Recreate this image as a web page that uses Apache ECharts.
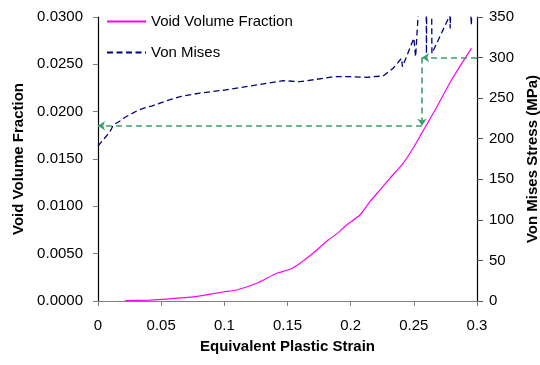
<!DOCTYPE html>
<html>
<head>
<meta charset="utf-8">
<script src="https://cdn.jsdelivr.net/npm/echarts@6/dist/echarts.min.js"></script>
<style>
html,body{margin:0;padding:0;background:#fff;}
#chart{width:540px;height:365px;}
</style>
</head>
<body>
<div id="chart"></div>
<script>
// Void volume fraction curve (strain, fraction)
const vvfStrain = [0.021, 0.0227, 0.0411, 0.0543, 0.0728, 0.0833, 0.0991, 0.1097, 0.1256, 0.1414, 0.1519, 0.1600, 0.1680, 0.1750, 0.1822, 0.1900, 0.1968, 0.2073, 0.2152, 0.2231, 0.2310, 0.2415, 0.2494, 0.2574, 0.2670, 0.2800, 0.2956];
const vvfValue  = [0.0000, 0.00003, 0.0001, 0.0002, 0.0004, 0.0006, 0.00095, 0.00116, 0.00187, 0.00293, 0.00335, 0.0040, 0.0048, 0.0056, 0.00644, 0.0072, 0.00803, 0.00908, 0.01049, 0.01172, 0.01296, 0.01455, 0.01613, 0.01800, 0.0202, 0.0234, 0.02669];

// Von Mises stress curve (strain, MPa)
const vmStrain = [0, 0.0095, 0.0121, 0.0187, 0.0214, 0.0306, 0.0358, 0.0425, 0.0543, 0.0649, 0.0807, 0.1004, 0.1202, 0.1466, 0.1598, 0.1730, 0.1860, 0.1994, 0.2125, 0.2257, 0.2336, 0.2402, 0.2410, 0.2500, 0.2514, 0.2553, 0.2597, 0.2600, 0.2603, 0.2640, 0.2643, 0.2785, 0.2788, 0.2800, 0.2940, 0.2955, 0.2970, 0.3000];
const vmValue  = [191, 208.6, 216.9, 223.1, 226.4, 234.2, 237.5, 240.3, 246.8, 251.8, 256.3, 260, 265, 271.5, 270.3, 273.2, 276.4, 276.4, 275.7, 277.3, 286.8, 299, 288.7, 323.8, 301, 400, 400, 305, 400, 400, 305, 352, 336, 400, 400, 340, 400, 400];

// Guide lines (green dashed arrows)
const guideStrain = 0.2565;
const guideStressHigh = 300;
const guideStressLow = 216;

const xTicks = { min: 0, max: 0.3, interval: 0.05 };
const leftTicks = { min: 0, max: 0.03, interval: 0.005 };
const rightTicks = { min: 0, max: 350, interval: 50 };

const vvfData = vvfStrain.map((x, i) => [x, vvfValue[i]]);
const vmData = vmStrain.map((x, i) => [x, vmValue[i]]);

const FONT = '"Liberation Sans", Arial, sans-serif';
const green = '#3f9f6b';

const chart = echarts.init(document.getElementById('chart'), null, { renderer: 'canvas' });
chart.setOption({
  animation: false,
  backgroundColor: '#ffffff',
  textStyle: { fontFamily: FONT },
  grid: { left: 98, right: 63, top: 17, bottom: 64, containLabel: false, outerBoundsMode: 'none' },
  legend: {
    orient: 'vertical',
    left: 101,
    top: 9,
    itemWidth: 39,
    itemHeight: 12,
    itemGap: 16,
    itemStyle: { opacity: 0 },
    textStyle: { fontFamily: FONT, fontSize: 15, color: '#000' },
    data: ['Void Volume Fraction', 'Von Mises']
  },
  xAxis: {
    type: 'value',
    min: xTicks.min, max: xTicks.max, interval: xTicks.interval,
    name: 'Equivalent Plastic Strain',
    nameLocation: 'middle',
    nameGap: 38,
    nameTextStyle: { fontFamily: FONT, fontSize: 15, fontWeight: 'bold', color: '#000' },
    axisLine: { show: true, lineStyle: { color: '#808080', width: 1 } },
    axisTick: { show: true, length: 5, lineStyle: { color: '#808080' } },
    axisLabel: { fontFamily: FONT, fontSize: 15, color: '#000', margin: 17,
      formatter: v => String(+v.toFixed(2)) },
    splitLine: { show: false }
  },
  yAxis: [
    {
      type: 'value', position: 'left',
      min: leftTicks.min, max: leftTicks.max, interval: leftTicks.interval,
      name: 'Void Volume Fraction',
      nameLocation: 'middle',
      nameGap: 72,
      nameRotate: 90,
      nameTextStyle: { fontFamily: FONT, fontSize: 15, fontWeight: 'bold', color: '#000' },
      axisLine: { show: true, lineStyle: { color: '#000', width: 1.2 } },
      axisTick: { show: true, length: 5, lineStyle: { color: '#808080' } },
      axisLabel: { fontFamily: FONT, fontSize: 15, color: '#000', margin: 15,
        formatter: v => v.toFixed(4) },
      splitLine: { show: false }
    },
    {
      type: 'value', position: 'right',
      min: rightTicks.min, max: rightTicks.max, interval: rightTicks.interval,
      name: 'Von Mises Stress (MPa)',
      nameLocation: 'middle',
      nameGap: 48,
      nameRotate: 90,
      nameTextStyle: { fontFamily: FONT, fontSize: 15, fontWeight: 'bold', color: '#000' },
      axisLine: { show: true, lineStyle: { color: '#000', width: 1.2 } },
      axisTick: { show: true, length: 6, lineStyle: { color: '#555' } },
      axisLabel: { fontFamily: FONT, fontSize: 15, color: '#000', margin: 12 },
      splitLine: { show: false }
    }
  ],
  series: [
    {
      name: 'Void Volume Fraction',
      type: 'line',
      yAxisIndex: 0,
      data: vvfData,
      showSymbol: false,
      symbol: 'none',
      smooth: 0.2,
      lineStyle: { color: '#ff00ff', width: 1.2 },
      itemStyle: { color: '#ff00ff' },
      z: 3
    },
    {
      name: 'Von Mises',
      type: 'line',
      yAxisIndex: 1,
      data: vmData,
      showSymbol: false,
      symbol: 'none',
      clip: true,
      lineStyle: { color: '#000080', width: 1.3, type: [6, 3.5] },
      itemStyle: { color: '#000080' },
      z: 3,
      markLine: {
        silent: true,
        symbol: ['none', 'arrow'],
        symbolSize: [7, 7],
        label: { show: false },
        lineStyle: { color: green, width: 1.6, type: [6, 4] },
        data: [
          [{ coord: [xTicks.max, guideStressHigh] }, { coord: [guideStrain, guideStressHigh] }],
          [{ coord: [guideStrain, guideStressHigh] }, { coord: [guideStrain, guideStressLow] }],
          [{ coord: [guideStrain, guideStressLow] }, { coord: [xTicks.min, guideStressLow] }]
        ]
      }
    }
  ]
});
</script>
</body>
</html>
